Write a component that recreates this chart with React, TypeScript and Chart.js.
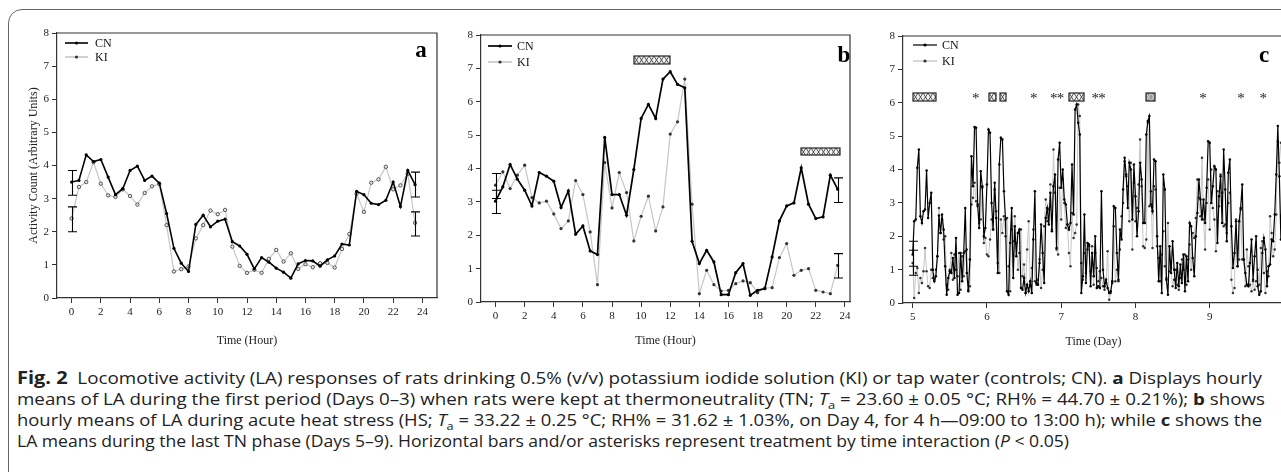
import React, { useEffect, useRef, useLayoutEffect } from "react";
import { Chart, registerables } from "chart.js";

Chart.register(...registerables);

// ---------------- data ----------------
const HOURS = [0, 0.5, 1, 1.5, 2, 2.5, 3, 3.5, 4, 4.5, 5, 5.5, 6, 6.5, 7, 7.5, 8, 8.5, 9, 9.5, 10, 10.5, 11, 11.5,
  12, 12.5, 13, 13.5, 14, 14.5, 15, 15.5, 16, 16.5, 17, 17.5, 18, 18.5, 19, 19.5, 20, 20.5, 21, 21.5, 22, 22.5, 23, 23.5];

const A_CN = [3.5, 3.55, 4.32, 4.12, 4.18, 3.65, 3.12, 3.3, 3.85, 3.98, 3.55, 3.68, 3.47, 2.55, 1.5, 1.05, 0.8, 2.22, 2.5, 2.15, 2.32, 2.38, 1.7, 1.57,
  1.32, 0.88, 1.22, 1.08, 0.9, 0.78, 0.6, 1.03, 1.13, 1.12, 0.96, 1.15, 1.27, 1.63, 1.6, 3.22, 3.12, 2.86, 2.82, 2.95, 3.5, 2.76, 3.85, 3.42];
const A_KI = [2.4, 3.35, 3.5, 4.1, 3.45, 3.1, 3.05, 3.28, 3.08, 2.82, 3.17, 3.37, 3.44, 2.2, 0.8, 0.87, 0.95, 1.8, 2.2, 2.64, 2.53, 2.66, 1.55, 0.97,
  0.76, 0.85, 0.76, 1.18, 1.45, 1.1, 1.35, 0.88, 1.02, 0.93, 1.05, 1.06, 0.92, 1.48, 1.93, 3.15, 2.6, 3.48, 3.58, 3.96, 3.28, 3.4, 3.75, 2.27];

const B_CN = [3.02, 3.45, 4.12, 3.68, 3.35, 2.88, 3.88, 3.77, 3.62, 2.83, 3.33, 2.03, 2.28, 1.53, 1.42, 4.93, 3.22, 3.22, 2.6, 3.97, 5.5, 5.92, 5.5, 6.68,
  6.9, 6.52, 6.42, 1.82, 1.15, 1.55, 1.2, 0.22, 0.22, 0.88, 1.15, 0.2, 0.35, 0.4, 1.35, 2.43, 2.88, 2.97, 4.02, 2.93, 2.5, 2.55, 3.8, 3.38];
const B_KI = [3.5, 3.9, 3.4, 3.8, 4.1, 3.13, 2.97, 3.02, 2.64, 2.2, 2.43, 3.64, 3.22, 2.1, 0.52, 4.18, 2.82, 3.88, 3.28, 1.83, 2.57, 3.17, 2.13, 2.85,
  5.03, 5.4, 6.68, 2.93, 0.25, 0.95, 0.52, 0.33, 0.35, 0.55, 0.63, 0.58, 0.28, 0.42, 0.43, 1.33, 1.75, 0.8, 0.95, 1.0, 0.35, 0.3, 0.25, 1.1];

// sampling times of panel c: every 30 min from day 5
const C_DAYS = Array.from({ length: 240 }, (_, i) => 5 + i / 48);

const C_CN = [
  1.45, 2.45, 2.5, 4.05, 4.6, 2.6, 2.4, 2.75, 2.8, 3.97, 2.55, 3.0,
  3.3, 1.0, 0.65, 0.8, 1.4, 2.62, 2.1, 2.65, 2.2, 1.1, 0.25, 0.75,
  0.95, 0.9, 1.35, 0.75, 1.95, 0.25, 0.3, 1.5, 0.65, 1.5, 2.85, 0.9,
  0.35, 1.3, 4.4, 3.5, 5.27, 5.25, 2.95, 2.25, 3.95, 3.5, 2.0, 2.25,
  3.55, 5.2, 5.1, 3.0, 2.2, 3.6, 2.55, 0.9, 4.15, 4.95, 4.9, 3.35,
  2.5, 0.35, 0.25, 1.8, 2.85, 0.75, 2.3, 1.4, 2.1, 2.2, 0.45, 0.4,
  0.75, 0.3, 0.55, 0.35, 0.65, 0.3, 1.9, 3.35, 0.6, 0.55, 1.2, 2.35,
  1.5, 0.6, 2.55, 2.85, 2.35, 3.3, 2.15, 3.5, 3.85, 1.65, 4.3, 4.8,
  3.45, 4.0, 3.1, 2.95, 2.35, 2.2, 2.4, 4.15, 2.65, 5.8, 5.95, 5.4,
  5.05, 0.3, 0.8, 2.65, 0.6, 1.8, 1.75, 0.5, 1.5, 0.8, 2.0, 0.45,
  0.5, 0.45, 3.35, 1.0, 0.5, 0.7, 0.45, 0.3, 0.35, 0.65, 2.9, 2.85,
  1.5, 0.7, 2.2, 1.9, 3.4, 4.35, 3.85, 2.85, 4.2, 4.0, 2.5, 4.15,
  3.2, 2.0, 2.75, 4.2, 3.7, 2.4, 2.4, 5.05, 5.45, 5.6, 2.95, 2.75,
  4.3, 4.25, 2.0, 0.65, 1.7, 0.3, 3.85, 3.4, 0.7, 0.25, 1.7, 0.9,
  1.85, 1.0, 0.45, 1.2, 0.5, 1.15, 0.6, 1.45, 0.35, 1.4, 0.65, 2.4,
  2.3, 1.35, 0.8, 2.0, 2.7, 3.7, 3.1, 2.5, 3.1, 2.4, 3.45, 4.85,
  4.8, 3.0, 3.5, 4.1, 4.0, 1.8, 3.2, 3.8, 2.4, 4.6, 3.4, 1.85,
  3.9, 4.3, 2.3, 1.05, 1.5, 2.45, 1.1, 2.45, 2.85, 3.55, 1.3, 0.9,
  0.55, 0.5, 1.2, 1.9, 0.7, 1.4, 2.0, 0.5, 0.25, 0.35, 1.5, 1.95,
  1.6, 0.5, 1.1, 1.15, 1.9, 1.85, 2.65, 3.85, 5.3, 3.8, 1.9, 3.7,
];
const C_KI = [
  1.2, 0.15, 0.9, 1.05, 0.3, 0.75, 0.6, 0.95, 1.65, 0.95, 0.5, 0.45,
  1.0, 0.75, 0.7, 1.0, 1.4, 2.85, 2.1, 2.5, 1.9, 2.0, 0.55, 0.4,
  1.0, 1.5, 0.7, 1.45, 1.0, 0.8, 1.5, 0.4, 1.4, 0.8, 1.55, 1.6,
  0.4, 0.5, 2.95, 3.15, 3.6, 3.05, 2.9, 2.4, 2.5, 3.45, 1.8, 1.95,
  1.45, 1.4, 1.9, 2.5, 2.2, 3.4, 2.75, 1.2, 0.9, 2.5, 2.1, 2.6,
  2.0, 2.55, 1.1, 0.35, 2.2, 1.85, 2.6, 1.8, 1.0, 1.5, 2.2, 0.8,
  1.15, 0.3, 1.6, 2.45, 0.5, 1.05, 2.2, 0.65, 0.55, 0.7, 1.3, 0.45,
  1.0, 2.3, 3.1, 2.45, 2.8, 3.55, 2.2, 4.6, 3.3, 1.6, 1.45, 3.45,
  2.5, 3.7, 3.0, 2.25, 2.35, 1.5, 1.1, 2.7, 1.95, 2.1, 2.35, 5.95,
  5.6, 1.2, 0.7, 1.5, 0.9, 1.6, 1.7, 0.95, 1.7, 0.55, 1.5, 1.05,
  0.65, 0.95, 0.75, 0.5, 0.4, 0.6, 1.55, 0.1, 0.3, 0.6, 2.3, 0.65,
  1.0, 0.65, 1.6, 2.6, 3.0, 4.25, 3.8, 3.5, 2.45, 4.2, 1.6, 3.6,
  2.45, 2.85, 3.55, 4.9, 3.5, 1.7, 1.65, 1.9, 5.4, 2.9, 3.35, 1.65,
  3.5, 3.4, 1.7, 1.35, 0.65, 1.45, 2.15, 1.1, 0.75, 2.4, 0.95, 1.05,
  0.5, 0.7, 1.0, 0.55, 0.4, 0.75, 1.3, 1.0, 1.45, 0.55, 1.3, 1.75,
  1.0, 2.1, 1.95, 2.55, 3.7, 3.15, 2.6, 4.35, 2.5, 1.6, 3.0, 3.7,
  2.2, 4.0, 2.85, 2.5, 1.55, 3.35, 2.9, 3.85, 3.3, 2.3, 2.35, 2.1,
  3.0, 3.3, 0.7, 0.3, 0.45, 2.5, 1.1, 1.3, 2.8, 1.3, 1.3, 0.5,
  1.6, 1.1, 0.55, 0.35, 0.65, 0.4, 0.65, 1.0, 0.55, 1.65, 1.85, 0.9,
  0.3, 0.95, 0.8, 2.6, 2.1, 1.4, 1.6, 2.65, 4.85, 4.2, 4.8, 4.25,
];

const Y_TICKS = [0, 1, 2, 3, 4, 5, 6, 7, 8];
const HOUR_TICKS = [0, 2, 4, 6, 8, 10, 12, 14, 16, 18, 20, 22, 24];
const DAY_TICKS = [5, 6, 7, 8, 9];

type Err = { x: number; lo: number; hi: number };
type Box = { x0: number; x1: number; y0: number; y1: number; shade?: boolean };

const A_ERR: Err[] = [
  { x: 0, lo: 3.1, hi: 3.85 }, { x: 0, lo: 2.0, hi: 2.75 },
  { x: 23.5, lo: 3.05, hi: 3.8 }, { x: 23.5, lo: 1.87, hi: 2.6 },
];
const B_ERR: Err[] = [
  { x: 0, lo: 2.65, hi: 3.35 }, { x: 0, lo: 3.1, hi: 3.85 },
  { x: 23.5, lo: 2.98, hi: 3.72 }, { x: 23.5, lo: 0.72, hi: 1.45 },
];
const C_ERR: Err[] = [
  { x: 5.0, lo: 1.1, hi: 1.85 }, { x: 5.0, lo: 0.83, hi: 1.58 },
];
const B_BOXES: Box[] = [
  { x0: 9.5, x1: 12.0, y0: 7.13, y1: 7.37 },
  { x0: 21.0, x1: 23.7, y0: 4.38, y1: 4.6 },
];
const C_BOXES: Box[] = [
  { x0: 5.0, x1: 5.31, y0: 6.06, y1: 6.3 },
  { x0: 6.03, x1: 6.12, y0: 6.06, y1: 6.3 },
  { x0: 6.17, x1: 6.25, y0: 6.06, y1: 6.3 },
  { x0: 7.11, x1: 7.31, y0: 6.06, y1: 6.3 },
  { x0: 8.14, x1: 8.26, y0: 6.06, y1: 6.3, shade: true },
];
const C_STARS = [5.85, 6.63, 6.9, 6.99, 7.46, 7.55, 8.91, 9.42, 9.72];
const STAR_Y = 6.2;

const CAPTION_TARGET_WIDTHS = [1245, 1248, 1245, 1052];

// ---------------- styles ----------------
const SERIF = '"Liberation Serif", "Times New Roman", "DejaVu Serif", serif';
const SANS = '"Open Sans", "Noto Sans", "Liberation Sans", sans-serif';
const CN_COLOR = "#000000";
const KI_COLOR = "#c6c6c6";

interface PanelCfg {
  left: number; top: number; width: number; height: number;
  pad: { left: number; right: number; top: number; bottom: number };
  yWidth: number; xHeight: number;
  xMin: number; xMax: number; xTicks: number[];
  xTitle: string; yTitle?: string;
  labels: number[]; cn: number[]; ki: number[];
  errs: Err[]; boxes: Box[]; stars: number[];
  letter: string; letterDx: number; letterDy: number;
  legend: { x0: number; x1: number; tx: number; y1: number; y2: number };
  cnWidth: number; kiWidth: number; pointR: number; kiHollow: boolean;
}

function makeHatch(ctx: CanvasRenderingContext2D, bg: string, fg: string) {
  const c = document.createElement("canvas");
  c.width = 5; c.height = 8;
  const g = c.getContext("2d")!;
  g.fillStyle = bg; g.fillRect(0, 0, 5, 8);
  g.strokeStyle = fg; g.lineWidth = 0.9;
  g.beginPath();
  g.moveTo(0, 0); g.lineTo(5, 8);
  g.moveTo(5, 0); g.lineTo(0, 8);
  g.stroke();
  return ctx.createPattern(c, "repeat")!;
}

function Panel({ cfg }: { cfg: PanelCfg }) {
  const ref = useRef<HTMLCanvasElement>(null);
  useEffect(() => {
    const canvas = ref.current!;
    const decor = {
      id: "decor",
      afterDatasetsDraw(chart: any) {
        const { ctx, chartArea: ca, scales } = chart;
        const xs = scales.x, ys = scales.y;
        ctx.save();
        ctx.strokeStyle = "#333"; ctx.lineWidth = 1.2;
        ctx.beginPath();
        ctx.moveTo(ca.left, ca.top); ctx.lineTo(ca.right, ca.top); ctx.lineTo(ca.right, ca.bottom);
        ctx.stroke();
        ctx.strokeStyle = "#000"; ctx.lineWidth = 1.1;
        for (const e of cfg.errs) {
          const px = Math.round(xs.getPixelForValue(e.x)) + 0.5;
          const y0 = ys.getPixelForValue(e.lo), y1 = ys.getPixelForValue(e.hi);
          ctx.beginPath();
          ctx.moveTo(px, y0); ctx.lineTo(px, y1);
          ctx.moveTo(px - 4.5, y0); ctx.lineTo(px + 4.5, y0);
          ctx.moveTo(px - 4.5, y1); ctx.lineTo(px + 4.5, y1);
          ctx.stroke();
        }
        for (const b of cfg.boxes) {
          const x0 = xs.getPixelForValue(b.x0), x1 = xs.getPixelForValue(b.x1);
          const yt = ys.getPixelForValue(b.y1), yb = ys.getPixelForValue(b.y0);
          const pat = b.shade ? makeHatch(ctx, "#9a9a9a", "#d8d8d8") : makeHatch(ctx, "#f2f2f2", "#444");
          ctx.save();
          ctx.translate(Math.round(x0), Math.round(yt));
          ctx.fillStyle = pat;
          ctx.fillRect(0, 0, Math.round(x1 - x0), Math.round(yb - yt));
          ctx.strokeStyle = "#222"; ctx.lineWidth = 1.2;
          ctx.strokeRect(0, 0, Math.round(x1 - x0), Math.round(yb - yt));
          ctx.restore();
        }
        ctx.fillStyle = "#222";
        ctx.font = `15px ${SERIF}`;
        ctx.textAlign = "center"; ctx.textBaseline = "middle";
        for (const s of cfg.stars) {
          ctx.fillText("*", xs.getPixelForValue(s), ys.getPixelForValue(STAR_Y) + 3);
        }
        const L = cfg.legend;
        const items: [string, string, number, number][] = [
          ["CN", CN_COLOR, cfg.cnWidth, L.y1],
          ["KI", KI_COLOR, cfg.kiWidth + 0.4, L.y2],
        ];
        ctx.font = `12px ${SERIF}`;
        ctx.textAlign = "left"; ctx.textBaseline = "middle";
        for (const [name, col, w, dy] of items) {
          const y = ca.top + dy;
          ctx.strokeStyle = col; ctx.lineWidth = w;
          ctx.beginPath();
          ctx.moveTo(ca.left + L.x0, y); ctx.lineTo(ca.left + L.x1, y);
          ctx.stroke();
          ctx.fillStyle = name === "CN" ? "#000" : "#333";
          ctx.beginPath();
          ctx.arc(ca.left + (L.x0 + L.x1) / 2, y, 1.6, 0, Math.PI * 2);
          ctx.fill();
          ctx.fillStyle = "#111";
          ctx.fillText(name, ca.left + L.tx, y + 1);
        }
        ctx.fillStyle = "#000";
        ctx.font = `bold 23px ${SERIF}`;
        ctx.textAlign = "center"; ctx.textBaseline = "alphabetic";
        ctx.fillText(cfg.letter, ca.right - cfg.letterDx, ca.top + cfg.letterDy);
        ctx.restore();
      },
    };

    const tickFont = { family: SERIF, size: 11 };
    const titleFont = { family: SERIF, size: 12 };
    const chart = new Chart(canvas, {
      type: "line",
      data: {
        labels: cfg.labels,
        datasets: [
          {
            label: "CN",
            data: cfg.cn,
            borderColor: CN_COLOR,
            borderWidth: cfg.cnWidth,
            pointRadius: cfg.pointR,
            pointBackgroundColor: "#000",
            pointBorderWidth: 0,
            tension: 0,
          },
          {
            label: "KI",
            data: cfg.ki,
            borderColor: KI_COLOR,
            borderWidth: cfg.kiWidth,
            pointRadius: cfg.kiHollow ? cfg.pointR + 0.1 : cfg.pointR,
            pointBackgroundColor: cfg.kiHollow ? "#e6e6e6" : "#333",
            pointBorderColor: "#333",
            pointBorderWidth: cfg.kiHollow ? 0.8 : 0,
            tension: 0,
          },
        ],
      },
      plugins: [decor],
      options: {
        animation: false,
        responsive: false,
        events: [],
        layout: { padding: cfg.pad, autoPadding: false } as any,
        plugins: { legend: { display: false }, tooltip: { enabled: false } },
        scales: {
          x: {
            type: "linear",
            min: cfg.xMin,
            max: cfg.xMax,
            afterBuildTicks: (s: any) => { s.ticks = cfg.xTicks.map((v) => ({ value: v })); },
            afterFit: (s: any) => { s.height = cfg.xHeight; },
            ticks: { font: tickFont, color: "#222", padding: 3, maxRotation: 0, autoSkip: false, callback: (v: any) => String(v) },
            grid: { display: true, drawOnChartArea: false, drawTicks: true, tickLength: 5, color: "#333", lineWidth: 1 },
            border: { display: true, color: "#333", width: 1.2 },
            title: { display: true, text: cfg.xTitle, font: titleFont, color: "#222", padding: { top: 4, bottom: 4 } },
          },
          y: {
            type: "linear",
            min: 0,
            max: 8,
            afterBuildTicks: (s: any) => { s.ticks = Y_TICKS.map((v) => ({ value: v })); },
            afterFit: (s: any) => { s.width = cfg.yWidth; },
            ticks: { font: tickFont, color: "#222", padding: 3, autoSkip: false, callback: (v: any) => String(v) },
            grid: { display: true, drawOnChartArea: false, drawTicks: true, tickLength: 5, color: "#333", lineWidth: 1 },
            border: { display: true, color: "#333", width: 1.2 },
            title: { display: !!cfg.yTitle, text: cfg.yTitle || "", font: titleFont, color: "#222", padding: { top: 4, bottom: 4 } },
          },
        },
      } as any,
    });
    return () => chart.destroy();
  }, [cfg]);
  return (
    <div style={{ position: "absolute", left: cfg.left, top: cfg.top, width: cfg.width, height: cfg.height }}>
      <canvas ref={ref} width={cfg.width} height={cfg.height} style={{ width: cfg.width, height: cfg.height, display: "block" }} />
    </div>
  );
}

const PANEL_A: PanelCfg = {
  left: 0, top: 0, width: 445, height: 360,
  pad: { left: 23, right: 8, top: 33, bottom: 8 }, yWidth: 34, xHeight: 54,
  xMin: -1, xMax: 25, xTicks: HOUR_TICKS, xTitle: "Time (Hour)", yTitle: "Activity Count (Arbitrary Units)",
  labels: HOURS, cn: A_CN, ki: A_KI, errs: A_ERR, boxes: [], stars: [],
  letter: "a", letterDx: 16, letterDy: 24,
  legend: { x0: 8, x1: 31, tx: 38, y1: 10, y2: 24 },
  cnWidth: 1.6, kiWidth: 1.2, pointR: 1.6, kiHollow: true,
};
const PANEL_B: PanelCfg = {
  left: 455, top: 0, width: 403, height: 365,
  pad: { left: 6, right: 8, top: 35, bottom: 13 }, yWidth: 20, xHeight: 50,
  xMin: -1, xMax: 24.35, xTicks: HOUR_TICKS, xTitle: "Time (Hour)",
  labels: HOURS, cn: B_CN, ki: B_KI, errs: B_ERR, boxes: B_BOXES, stars: [],
  letter: "b", letterDx: 6, letterDy: 27,
  legend: { x0: 7, x1: 31, tx: 36, y1: 11, y2: 27 },
  cnWidth: 1.7, kiWidth: 1.2, pointR: 1.6, kiHollow: false,
};
const PANEL_C: PanelCfg = {
  left: 877, top: 0, width: 415, height: 365,
  pad: { left: 6, right: 8, top: 36, bottom: 12 }, yWidth: 20, xHeight: 50,
  xMin: 4.87, xMax: 10, xTicks: DAY_TICKS, xTitle: "Time (Day)",
  labels: C_DAYS, cn: C_CN, ki: C_KI, errs: C_ERR, boxes: C_BOXES, stars: C_STARS,
  letter: "c", letterDx: 20, letterDy: 26,
  legend: { x0: 10, x1: 34, tx: 39, y1: 9, y2: 25 },
  cnWidth: 1.2, kiWidth: 1.0, pointR: 1.25, kiHollow: false,
};

const LINE_STYLE: React.CSSProperties = {
  display: "block", height: 21, lineHeight: "21px", whiteSpace: "nowrap",
};
const SUB_STYLE: React.CSSProperties = { fontSize: 11, position: "relative", top: 4 };

function Caption() {
  const refs = useRef<(HTMLSpanElement | null)[]>([]);
  useLayoutEffect(() => {
    const fit = () => {
      refs.current.forEach((el, i) => {
        if (!el) return;
        el.style.transform = "none";
        const w = el.getBoundingClientRect().width;
        if (w > 0) el.style.transform = `scaleX(${CAPTION_TARGET_WIDTHS[i] / w})`;
      });
    };
    fit();
    const fonts = (document as any).fonts;
    if (fonts && fonts.ready) fonts.ready.then(fit);
  }, []);
  const span = (i: number, children: React.ReactNode) => (
    <div style={{ height: 21 }}>
      <span ref={(el) => { refs.current[i] = el; }} style={{ ...LINE_STYLE, display: "inline-block", transformOrigin: "0 50%" }}>
        {children}
      </span>
    </div>
  );
  return (
    <div style={{ position: "absolute", left: 17, top: 367, fontFamily: SANS, fontSize: 16, color: "#222" }}>
      {span(0, <><b style={{ fontSize: 17 }}>Fig. 2</b>&nbsp;&nbsp;Locomotive activity (LA) responses of rats drinking 0.5% (v/v) potassium iodide solution (KI) or tap water (controls; CN). <b>a</b> Displays hourly</>)}
      {span(1, <>means of LA during the first period (Days 0–3) when rats were kept at thermoneutrality (TN; <i>T</i><span style={SUB_STYLE}>a</span> = 23.60 ± 0.05 °C; RH% = 44.70 ± 0.21%); <b>b</b> shows</>)}
      {span(2, <>hourly means of LA during acute heat stress (HS; <i>T</i><span style={SUB_STYLE}>a</span> = 33.22 ± 0.25 °C; RH% = 31.62 ± 1.03%, on Day 4, for 4 h—09:00 to 13:00 h); while <b>c</b> shows the</>)}
      {span(3, <>LA means during the last TN phase (Days 5–9). Horizontal bars and/or asterisks represent treatment by time interaction (<i>P</i> &lt; 0.05)</>)}
    </div>
  );
}

export default function App() {
  return (
    <div style={{ position: "fixed", left: 0, top: 0, width: 1281, height: 472, overflow: "hidden", background: "#fff" }}>
      <div style={{ position: "absolute", left: 8, top: 9, width: 1400, height: 600, border: "1.5px solid #666", borderRadius: 14, boxSizing: "border-box" }} />
      <Panel cfg={PANEL_A} />
      <Panel cfg={PANEL_B} />
      <Panel cfg={PANEL_C} />
      <Caption />
    </div>
  );
}
